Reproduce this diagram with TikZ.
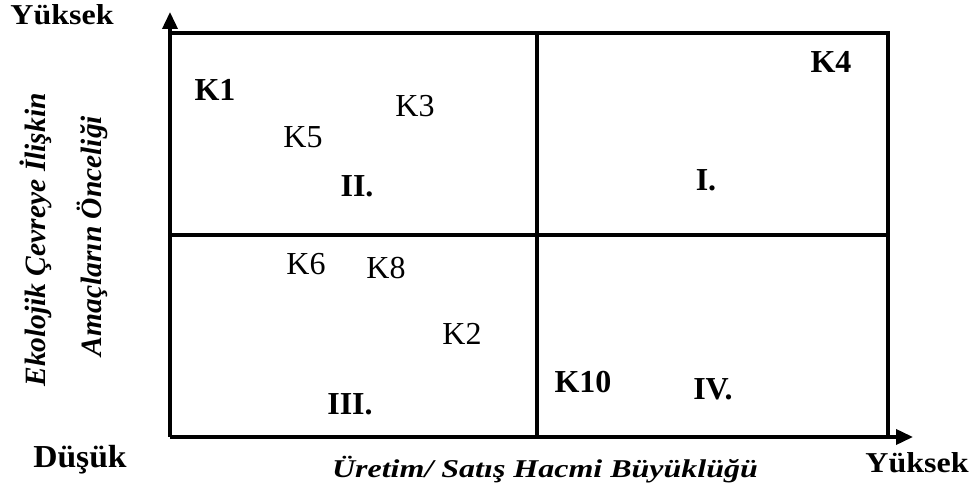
\documentclass[tikz,border=0pt]{standalone}
\usepackage{fontspec}
\setmainfont{Liberation Serif}
\usetikzlibrary{arrows.meta}
\begin{document}
\begin{tikzpicture}[x=1pt,y=1pt,
  axisline/.style={line width=3.6pt},
  gridline/.style={line width=3.4pt},
  lbl/.style={font=\fontsize{32}{36}\selectfont, anchor=base, inner sep=0pt},
  blbl/.style={lbl, font=\fontsize{32}{36}\selectfont\bfseries},
  axlbl/.style={font=\fontsize{32}{36}\selectfont\bfseries\itshape, inner sep=0pt},
  vlbl/.style={font=\fontsize{29.5}{34}\selectfont\bfseries\itshape, inner sep=0pt, rotate=90}]
\useasboundingbox (0,0) rectangle (973,489);
% frame and quadrants
\coordinate (o) at (170,52);
\coordinate (ytip) at (170,477);
\coordinate (xtip) at (913,52);
\coordinate (tl) at (170,456);
\coordinate (tr) at (888,456);
\coordinate (br) at (888,52);
\coordinate (mt) at (537,456);
\coordinate (mb) at (537,52);
\coordinate (ml) at (170,254);
\coordinate (mr) at (888,254);
\draw[gridline] (tl) -- (tr) -- (br);
\draw[gridline] (mt) -- (mb);
\draw[gridline] (ml) -- (mr);
\draw[axisline,-{Triangle[length=17pt,width=15pt]}] (o) -- (ytip);
\draw[axisline,-{Triangle[length=17pt,width=15pt]}] (o) -- (xtip);
% axis labels
\node[blbl, yscale=0.9] (yhigh) at (62,464) {Yüksek};
\node[blbl, xscale=1.05] (ylow) at (80,21) {Düşük};
\node[blbl, yscale=0.9] (xhigh) at (917,16) {Yüksek};
\node[axlbl, anchor=base, yscale=0.8] (xtitle) at (545,11) {Üretim/ Satış Hacmi Büyüklüğü};
\node[vlbl] (ytitle1) at (36,249) {Ekolojik Çevreye İlişkin};
\node[vlbl] (ytitle2) at (92,253) {Amaçların Önceliği};
% items
\node[blbl] (k1) at (215,388) {K1};
\node[lbl] (k3) at (415,372) {K3};
\node[lbl] (k5) at (303,341) {K5};
\node[blbl] (q2) at (357,292) {II.};
\node[blbl] (k4) at (831,416) {K4};
\node[blbl] (q1) at (706,298) {I.};
\node[lbl] (k6) at (306,214) {K6};
\node[lbl] (k8) at (386,210) {K8};
\node[lbl] (k2) at (462,144) {K2};
\node[blbl] (k10) at (583,96) {K10};
\node[blbl] (q4) at (713,89) {IV.};
\node[blbl] (q3) at (350,74) {III.};
\end{tikzpicture}
\end{document}
